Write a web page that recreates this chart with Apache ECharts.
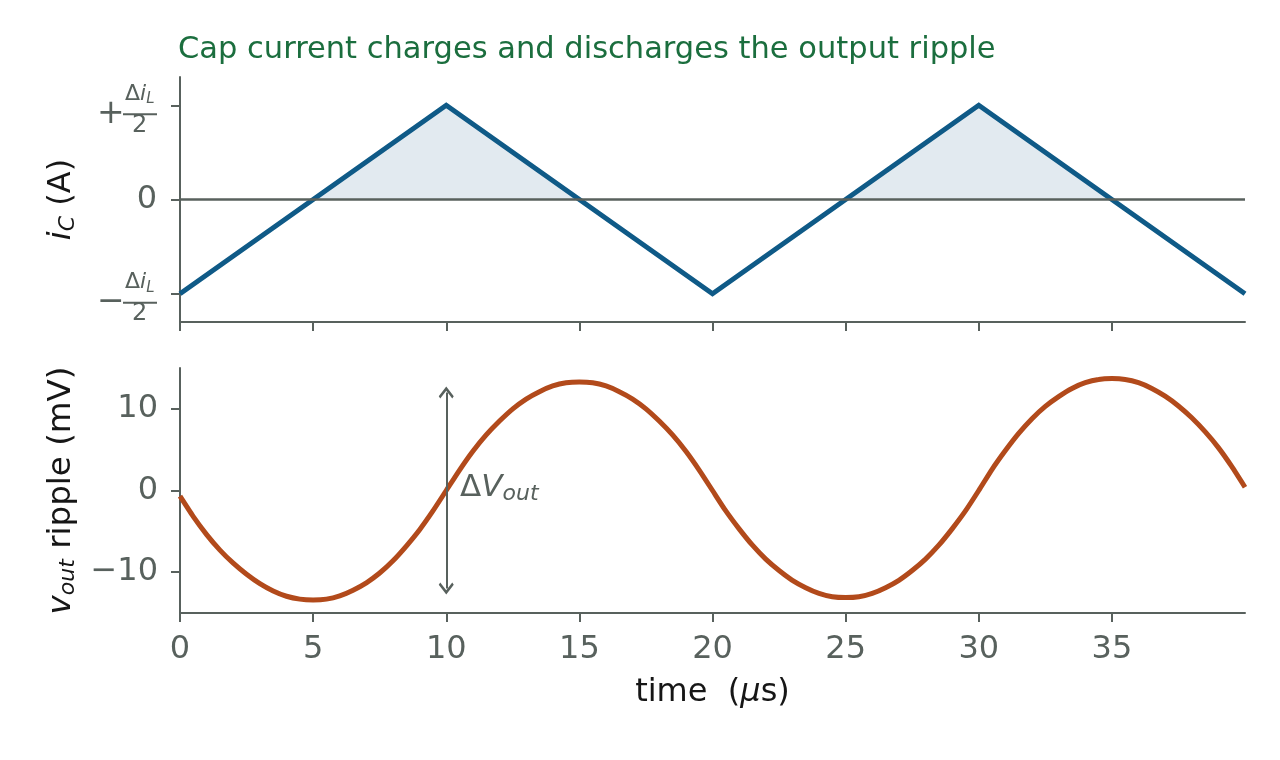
<!DOCTYPE html>
<html><head><meta charset="utf-8">
<script src="https://cdn.jsdelivr.net/npm/echarts@6/dist/echarts.min.js"></script>
<style>html,body{margin:0;padding:0;background:#fff}#c{width:1280px;height:760px}</style>
</head><body><div id="c"></div>
<script>
// ---- data ----
const titleText = 'Cap current charges and discharges the output ripple';
const tI = [0, 10, 20, 30, 40];
const iC = [-1, 1, -1, 1, -1];
const tShade = [5, 10, 15, 20, 25, 30, 35];
const iShade = [0, 1, 0, '-', 0, 1, 0];
const tV = [0,0.5,1,1.5,2,2.5,3,3.5,4,4.5,5,5.5,6,6.5,7,7.5,8,8.5,9,9.5,
  10,10.5,11,11.5,12,12.5,13,13.5,14,14.5,15,15.5,16,16.5,17,17.5,18,18.5,19,19.5,
  20,20.5,21,21.5,22,22.5,23,23.5,24,24.5,25,25.5,26,26.5,27,27.5,28,28.5,29,29.5,
  30,30.5,31,31.5,32,32.5,33,33.5,34,34.5,35,35.5,36,36.5,37,37.5,38,38.5,39,39.5,40];
const vRipple = [-0.7,-3.2,-5.4,-7.3,-8.9,-10.25,-11.4,-12.3,-12.95,-13.3,-13.4,-13.3,-12.9,-12.2,-11.3,-10.1,-8.6,-6.8,-4.8,-2.5,
  0,2.5,4.8,6.8,8.5,10.0,11.2,12.1,12.8,13.2,13.3,13.2,12.8,12.1,11.2,10.0,8.5,6.8,4.8,2.5,
  0,-2.5,-4.7,-6.7,-8.4,-9.8,-11.0,-11.9,-12.6,-13.0,-13.1,-13.0,-12.6,-11.9,-11.0,-9.8,-8.4,-6.7,-4.7,-2.5,
  0,2.6,4.9,7.0,8.8,10.3,11.5,12.5,13.2,13.6,13.7,13.6,13.2,12.5,11.55,10.35,8.9,7.2,5.25,2.95,0.4];
const xTicks = [0, 5, 10, 15, 20, 25, 30, 35];
const iTicks = [-1, 0, 1];
const vTicks = [-10, 0, 10];
const arrowT = 10, arrowLow = -12.0, arrowHigh = 12.0;
const annotT = 10.5, annotV = 0.3;

// ---- style ----
const FONT = 'DejaVu Sans';
const GRAY = '#58615d';
const INK = '#161616';
const BLUE = '#0f5a87';
const ORANGE = '#b24a1b';
const FILL = '#e2eaf0';
const GREEN = '#1b6e3e';
const chevron = 'path://M0,0 L10,9 L8,11 L0,3.8 L-8,11 L-10,9 Z';

const fracRich = {
  g:  {width: 28, align: 'left', lineHeight: 36, fontSize: 20},
  n:  {fontSize: 22, color: GRAY, fontFamily: FONT, lineHeight: 36, align: 'left'},
  ni: {fontSize: 22, color: GRAY, fontFamily: FONT, fontStyle: 'italic', lineHeight: 36, align: 'left'},
  ns: {fontSize: 15, color: GRAY, fontFamily: FONT, fontStyle: 'italic', lineHeight: 36, padding: [10, 0, 0, 0], align: 'left'},
  pm: {fontSize: 33, color: GRAY, fontFamily: FONT, width: 26, lineHeight: 4, align: 'left'},
  bar: {fontSize: 2, width: 34, height: 2, lineHeight: 4, backgroundColor: GRAY, align: 'left'},
  g2: {width: 35, align: 'left', lineHeight: 18, fontSize: 14},
  d:  {fontSize: 24, color: GRAY, fontFamily: FONT, lineHeight: 18, align: 'left'},
  z:  {fontSize: 32, color: GRAY, fontFamily: FONT}
};
function fracLabel(v) {
  if (v === 0) return '{z|0}';
  const s = v > 0 ? '+' : '\u2212';
  return '{g| }{n|\u0394}{ni|i}{ns|L}\n{pm|' + s + '}{bar| }\n{g2| }{d|2}';
}
function minusFmt(v) { return v < 0 ? '\u2212' + Math.abs(v) : String(v); }

const axisLineStyle = {show: true, onZero: false, lineStyle: {color: GRAY, width: 2}};
const tickStyle = {lineStyle: {color: GRAY, width: 2}};

const chart = echarts.init(document.getElementById('c'), null, {renderer: 'canvas'});
chart.setOption({
  animation: false,
  backgroundColor: '#fff',
  textStyle: {fontFamily: FONT},
  title: {
    text: titleText, left: 178, top: 35, padding: 0,
    textStyle: {color: GREEN, fontSize: 30.5, fontWeight: 'normal', fontFamily: FONT}
  },
  grid: [
    {left: 180, right: 35, top: 77, height: 245},
    {left: 180, right: 35, top: 368, height: 245}
  ],
  xAxis: [
    {gridIndex: 0, type: 'value', min: 0, max: 40,
     axisLine: axisLineStyle,
     axisTick: Object.assign({show: true, length: 9, customValues: xTicks}, tickStyle),
     axisLabel: {show: false}, splitLine: {show: false}},
    {gridIndex: 1, type: 'value', min: 0, max: 40,
     axisLine: axisLineStyle,
     axisTick: Object.assign({show: true, length: 9, customValues: xTicks}, tickStyle),
     axisLabel: {customValues: xTicks, color: GRAY, fontSize: 32, fontFamily: FONT, margin: 21},
     splitLine: {show: false},
     name: '{t|time  (}{mu|\u03bc}{t|s)}', nameLocation: 'middle', nameGap: 64,
     nameTextStyle: {rich: {
       t: {fontSize: 32, color: INK, fontFamily: FONT},
       mu: {fontSize: 32, color: INK, fontFamily: FONT, fontStyle: 'italic'}
     }}}
  ],
  yAxis: [
    {gridIndex: 0, type: 'value', min: -1.3, max: 1.3,
     axisLine: axisLineStyle,
     axisTick: Object.assign({show: true, length: 9, customValues: iTicks}, tickStyle),
     axisLabel: {customValues: iTicks, formatter: fracLabel, rich: fracRich, margin: 23},
     splitLine: {show: false},
     name: '{i|i}{c|C}{t| (A)}', nameLocation: 'middle', nameRotate: 90, nameGap: 101,
     nameTextStyle: {rich: {
       i: {fontSize: 32, color: INK, fontFamily: FONT, fontStyle: 'italic'},
       c: {fontSize: 22, color: INK, fontFamily: FONT, fontStyle: 'italic', padding: [13, 0, 0, 0]},
       t: {fontSize: 32, color: INK, fontFamily: FONT}
     }}},
    {gridIndex: 1, type: 'value', min: -15, max: 15,
     axisLine: axisLineStyle,
     axisTick: Object.assign({show: true, length: 9, customValues: vTicks}, tickStyle),
     axisLabel: {customValues: vTicks, formatter: minusFmt, color: GRAY, fontSize: 32, fontFamily: FONT, margin: 22},
     splitLine: {show: false},
     name: '{v|v}{o|out}{t| ripple (mV)}', nameLocation: 'middle', nameRotate: 90, nameGap: 101,
     nameTextStyle: {rich: {
       v: {fontSize: 32.5, color: INK, fontFamily: FONT, fontStyle: 'italic'},
       o: {fontSize: 22, color: INK, fontFamily: FONT, fontStyle: 'italic', padding: [13, 0, 0, 0]},
       t: {fontSize: 32.5, color: INK, fontFamily: FONT}
     }}}
  ],
  series: [
    {type: 'line', xAxisIndex: 0, yAxisIndex: 0, z: 1,
     data: tShade.map((t, k) => [t, iShade[k]]),
     symbol: 'none', connectNulls: false, silent: true,
     lineStyle: {width: 0, opacity: 0},
     areaStyle: {color: FILL, opacity: 1, origin: 'auto'},
     markLine: {silent: true, symbol: 'none', animation: false,
       lineStyle: {color: GRAY, width: 2.5, type: 'solid'}, label: {show: false},
       data: [{yAxis: 0}]}},
    {type: 'line', xAxisIndex: 0, yAxisIndex: 0, z: 3,
     data: tI.map((t, k) => [t, iC[k]]),
     symbol: 'none', silent: true,
     lineStyle: {color: BLUE, width: 5, join: 'miter'}},
    {type: 'line', xAxisIndex: 1, yAxisIndex: 1, z: 3,
     data: tV.map((t, k) => [t, vRipple[k]]),
     symbol: 'none', smooth: 0.2, silent: true,
     lineStyle: {color: ORANGE, width: 5},
     markLine: {silent: true, animation: false,
       symbol: [chevron, chevron], symbolSize: [15, 12],
       itemStyle: {color: GRAY},
       lineStyle: {color: GRAY, width: 2, type: 'solid'}, label: {show: false},
       data: [[{coord: [arrowT, arrowLow]}, {coord: [arrowT, arrowHigh]}]]},
     markPoint: {silent: true, animation: false, symbol: 'circle', symbolSize: 1,
       itemStyle: {color: 'rgba(0,0,0,0)'},
       label: {show: true, position: 'right', distance: 0,
         formatter: '{d|\u0394}{v|V}{s|out}',
         rich: {
           d: {fontSize: 31, color: GRAY, fontFamily: FONT},
           v: {fontSize: 31, color: GRAY, fontFamily: FONT, fontStyle: 'italic'},
           s: {fontSize: 22, color: GRAY, fontFamily: FONT, fontStyle: 'italic', padding: [13, 0, 0, 0]}
         }},
       data: [{coord: [annotT, annotV]}]}}
  ]
});
</script>
</body></html>
